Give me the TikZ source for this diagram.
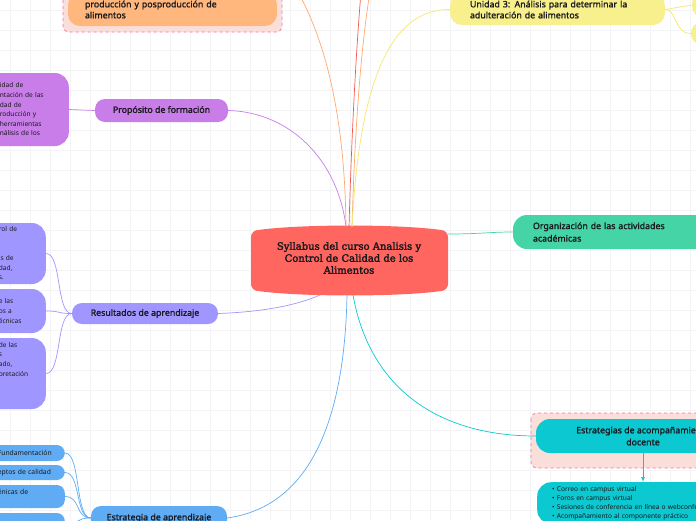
\documentclass[tikz,border=0pt]{standalone}
\usepackage{fontspec}
\setmainfont{Noto Sans}
\newfontfamily\boldsans{Noto Sans}[FakeBold=1.5]
\newfontfamily\slabfont{DejaVu Serif}[FakeBold=2.6]
\usetikzlibrary{arrows}
\tikzset{>=latex}
\definecolor{mygrid}{RGB}{244, 244, 246}
\definecolor{myframe}{RGB}{240, 120, 160}
\definecolor{myframefill}{RGB}{250, 222, 218}
\definecolor{myred}{RGB}{255, 102, 96}
\definecolor{myorange}{RGB}{255, 183, 125}
\definecolor{myorangeline}{RGB}{255, 170, 110}
\definecolor{myredline}{RGB}{240, 90, 80}
\definecolor{myyellow}{RGB}{248, 240, 140}
\definecolor{myyellowline}{RGB}{245, 232, 110}
\definecolor{mypurple}{RGB}{200, 125, 232}
\definecolor{mylavender}{RGB}{160, 150, 255}
\definecolor{myblue}{RGB}{95, 172, 245}
\definecolor{mygreen}{RGB}{68, 212, 166}
\definecolor{myteal}{RGB}{12, 200, 208}
\definecolor{mytext}{RGB}{25, 25, 30}
\tikzset{
  pill/.style={rounded corners=10pt, inner sep=0pt, text=mytext,
    font=\boldsans\fontsize{8.8}{11}\selectfont},
  leaf/.style={rounded corners=14pt, inner sep=0pt, align=left, text=mytext,
    font=\fontsize{6.6}{9.6}\selectfont},
  twig/.style={rounded corners=8pt, inner sep=0pt, align=left, text=mytext,
    font=\fontsize{6.8}{9}\selectfont},
  framebox/.style={rounded corners=6pt, dashed, draw=myframe, fill=myframefill, line width=0.7pt},
  link/.style={line width=0.7pt}
}

\begin{document}
\begin{tikzpicture}[x=1pt, y=-1pt]
\useasboundingbox (0,0) rectangle (696,520);
\clip (0,0) rectangle (696,520);
\fill[white] (0,0) rectangle (696,520);
\foreach \gx in {10,30,...,690} \draw[mygrid, line width=0.4pt] (\gx,0) -- (\gx,520);
\foreach \gy in {10,30,...,510} \draw[mygrid, line width=0.4pt] (0,\gy) -- (696,\gy);

% dashed frames
\draw[framebox] (63,-12) rectangle (282,32);
\draw[framebox] (531,413) rectangle (770,468);

% central topic
\fill[myred, rounded corners=6pt] (251,231) .. controls (300,224) and (400,224) .. (448,231)
  -- (448,290) .. controls (400,297) and (300,297) .. (251,290) -- cycle;
\node[font=\slabfont\fontsize{10}{12}\selectfont, text=mytext, align=center] (syllabus) at (349,258)
  {Syllabus del curso Analisis y\\Control de Calidad de los\\Alimentos};
\coordinate (hubA) at (346,227);
\coordinate (hubB) at (349,227);
\coordinate (hubC) at (352,227);
\coordinate (hubD) at (320,295);
\coordinate (hubE) at (347,295);
\coordinate (hubF) at (353,295);
\coordinate (hubG) at (448,234);

% top branches
\node[pill, fill=myorange, minimum width=209, minimum height=33, text width=175, align=left, rounded corners=12pt]
  (unidaddos) at (172.5,9.5) {producción y posproducción de\\alimentos};
\node[pill, fill=myyellow, minimum width=215, minimum height=31, text width=175, align=left, rounded corners=12pt]
  (unidadtres) at (557.5,9.5) {Unidad 3: Análisis para determinar la\\adulteración de alimentos};
\node[fill=myyellow, minimum width=30, minimum height=26, rounded corners=12pt] (tresa) at (707,5) {};
\node[fill=myyellow, minimum width=30, minimum height=23, rounded corners=11pt] (tresb) at (706,33.5) {};
\coordinate (offA) at (298,-8);
\coordinate (offB) at (361,-8);
\coordinate (offC) at (370,-8);

% left branches
\node[pill, fill=mypurple, minimum width=133, minimum height=23] (proposito) at (161.5,110.5) {Propósito de formación};
\node[leaf, fill=mypurple, minimum width=90, minimum height=73, text width=48, anchor=east] (propleaf) at (69,109.5)
  {idad de\\ntación de las\\dad de\\roducción y\\herramientas\\nálisis de los};

\node[pill, fill=mylavender, minimum width=146, minimum height=21] (resultados) at (145,313.5) {Resultados de aprendizaje};
\node[leaf, fill=mylavender, minimum width=64, minimum height=61, text width=30, anchor=east] (resa) at (46,253.5)
  {rol de\\\mbox{}\\\mbox{}\\is de\\dad,\\s.};
\node[leaf, fill=mylavender, minimum width=64, minimum height=44, text width=30, anchor=east] (resb) at (46,311)
  {e las\\os a\\écnicas};
\node[leaf, fill=mylavender, minimum width=64, minimum height=71, text width=30, anchor=east] (resc) at (46,373.5)
  {de las\\s\\ado,\\pretación\\\mbox{}\\\mbox{}\\\mbox{}};

\node[pill, fill=myblue, minimum width=136, minimum height=24] (estrategia) at (159,518) {Estrategia de aprendizaje};
\node[twig, fill=myblue, minimum width=78, minimum height=16, text width=56, anchor=east] (esta) at (65,453) {Fundamentación};
\node[twig, fill=myblue, minimum width=78, minimum height=15, text width=56, anchor=east] (estb) at (65,472.5) {eptos de calidad};
\node[twig, fill=myblue, minimum width=78, minimum height=23, text width=56, anchor=east] (estc) at (65,496.5) {énicas de\\\mbox{}};
\node[twig, fill=myblue, minimum width=78, minimum height=22, text width=56, anchor=east] (estd) at (65,524) {};

% right branches
\node[pill, fill=mygreen, minimum width=217, minimum height=34, text width=177, align=left, rounded corners=14pt,
  font=\boldsans\fontsize{8.8}{12.5}\selectfont] (organizacion) at (621.5,232)
  {Organización de las actividades\\académicas};
\node[pill, fill=myteal, minimum width=214, minimum height=34, align=center, rounded corners=14pt,
  font=\boldsans\fontsize{8.8}{12}\selectfont] (docente) at (643,436)
  {Estrategias de acompañamiento\\docente};
\node[leaf, fill=myteal, minimum width=240, text width=210, inner ysep=4pt, anchor=north west,
  font=\fontsize{6.6}{9}\selectfont] (canales) at (537,482)
  {• Correo en campus virtual\\• Foros en campus virtual\\• Sesiones de conferencia en línea o webconferencia\\• Acompañamiento al componente práctico};

% connectors
\draw[link, myorangeline] (hubA) .. controls (345,130) and (330,50) .. (offA);
\draw[link, myredline] (hubB) .. controls (352,120) and (357,40) .. (offB);
\draw[link, myorangeline] (hubC) .. controls (355,120) and (362,40) .. (offC);
\draw[link, myyellowline] (hubC) .. controls (360,70) and (395,9) .. (unidadtres.west);
\draw[link, myyellowline] (unidadtres.east) -- (tresa.west);
\draw[link, myyellowline] (unidadtres.east) .. controls (676,8) and (674,33.5) .. (tresb.west);
\draw[link, mypurple] (hubA) .. controls (338,160) and (290,112) .. (proposito.east);
\draw[link, mypurple] (proposito.west) -- (propleaf.east);
\draw[link, mylavender] (hubD) .. controls (295,306) and (260,312) .. (resultados.east);
\foreach \leafname in {resa,resb,resc}
  \draw[link, mylavender] (resultados.west) .. controls +(-16,0) and +(16,0) .. (\leafname.east);
\draw[link, myblue] (hubE) .. controls (345,400) and (320,505) .. (estrategia.east);
\foreach \leafname in {esta,estb,estc,estd}
  \draw[link, myblue] (estrategia.west) .. controls +(-16,0) and +(16,0) .. (\leafname.east);
\draw[link, mygreen] (hubG) .. controls (480,234) and (490,232) .. (organizacion.west);
\draw[link, myteal] (hubF) .. controls (370,390) and (440,436) .. (docente.west);
\draw[link, myteal, ->] (docente.south) -- (docente.south |- canales.north);
\end{tikzpicture}
\end{document}
